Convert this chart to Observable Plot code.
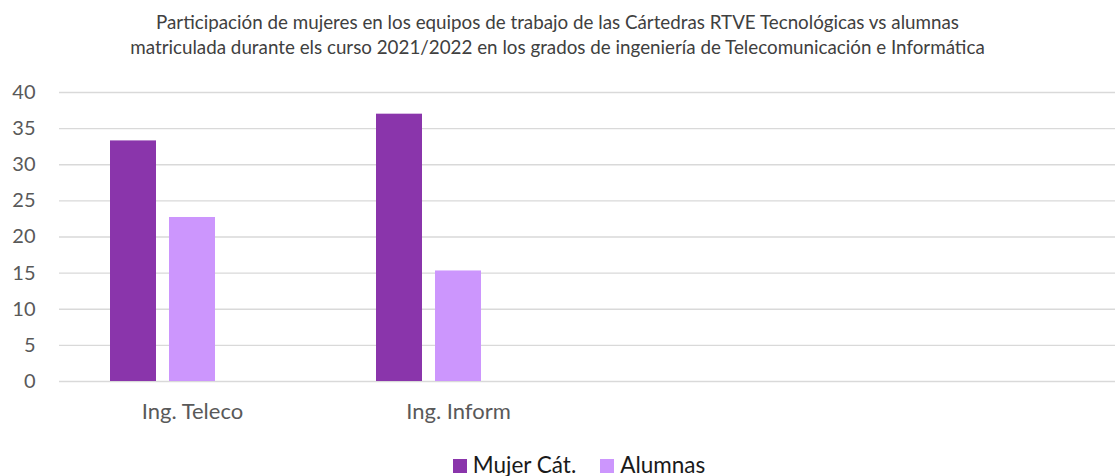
<!DOCTYPE html>
<html>
<head>
<meta charset="utf-8">
<script src="https://cdn.jsdelivr.net/npm/d3@7"></script>
<script src="https://cdn.jsdelivr.net/npm/@observablehq/plot@0.6"></script>
<style>
  body { margin: 0; background: #fff; font-family: Lato, "Open Sans", sans-serif; }
  #title { width: 1115px; text-align: center; color: #404040; font-size: 18.8px; line-height: 25px; padding-top: 9px; height: 61px; box-sizing: content-box; }
  #legend { width: 1115px; display: flex; justify-content: center; gap: 24px; font-size: 22.5px; line-height: 26px; color: #1a1a1a; margin-top: 21px; padding-left: 43px; box-sizing: border-box; }
  #legend span.sw { display: inline-block; width: 14px; height: 14px; margin-right: 6px; vertical-align: 0px; }
</style>
</head>
<body>
<div id="title">Participación de mujeres en los equipos de trabajo de las Cártedras RTVE Tecnológicas vs alumnas<br>matriculada durante els curso 2021/2022 en los grados de ingeniería de Telecomunicación e Informática</div>
<div id="chart"></div>
<div id="legend"></div>
<script>
const categories = ["Ing. Teleco", "Ing. Inform", " ", "  "];
const series = ["Mujer Cát.", "Alumnas"];
const mujerCat = [33.3, 37.0];
const alumnas = [22.7, 15.3];
const colors = ["#8a35ab", "#cc96fd"];
const yTicks = [0, 5, 10, 15, 20, 25, 30, 35, 40];

const data = [];
mujerCat.forEach((v, i) => data.push({cat: categories[i], series: series[0], value: v}));
alumnas.forEach((v, i) => data.push({cat: categories[i], series: series[1], value: v}));

// gridlines per category facet (keeps every facet present)
const grid = [];
categories.forEach(c => yTicks.forEach(t => grid.push({cat: c, v: t})));

const xDomain = [...series, "_extra"];

const chart = Plot.plot({
  width: 1115,
  height: 361,
  marginTop: 22,
  marginBottom: 50,
  marginLeft: 59,
  marginRight: 2,
  style: {fontFamily: "Lato, 'Open Sans', sans-serif", fontSize: "20px", color: "#595959", background: "#fff", overflow: "visible"},
  fx: {domain: categories, range: [59, 1123], paddingInner: 0, paddingOuter: 0, label: null, tickSize: 0, tickPadding: 22, axis: "bottom"},
  x: {domain: xDomain, paddingInner: 0.22, paddingOuter: 0.85, axis: null},
  y: {domain: [0, 40], ticks: yTicks, label: null, tickSize: 0, tickPadding: 24},
  color: {domain: series, range: colors},
  marks: [
    Plot.ruleY(grid, {fx: "cat", y: "v", stroke: "#d9d9d9", strokeWidth: 1.3}),
    Plot.barY(data, {fx: "cat", x: "series", y: "value", fill: "series", inset: 0}),
  ]
});
chart.querySelectorAll("text").forEach(t => t.setAttribute("fill", "#595959"));
chart.querySelectorAll("[aria-label='fx-axis tick label']").forEach(g => g.setAttribute("font-size", "22"));
chart.querySelectorAll("[aria-label='fx-axis tick label'] text").forEach(t => t.setAttribute("font-size", "22"));
document.getElementById("chart").appendChild(chart);

const legend = document.getElementById("legend");
series.forEach((s, i) => {
  const item = document.createElement("div");
  item.innerHTML = `<span class="sw" style="background:${colors[i]}"></span>${s}`;
  legend.appendChild(item);
});
</script>
</body>
</html>
